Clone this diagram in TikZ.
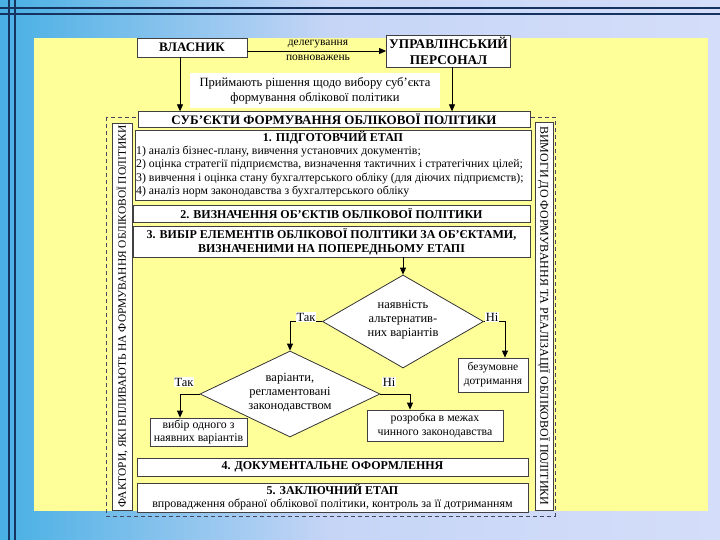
\documentclass[tikz,border=0pt]{standalone}
\usepackage{fontspec}
\setmainfont{Liberation Serif}
\usetikzlibrary{shapes.geometric,arrows.meta}
\definecolor{bgA}{RGB}{72,176,228}
\definecolor{bgB}{RGB}{198,213,246}
\definecolor{bgC}{RGB}{212,222,250}
\definecolor{yel}{RGB}{255,255,153}
\definecolor{navy}{RGB}{22,50,95}
\definecolor{dashc}{RGB}{70,72,95}
\begin{document}
\begin{tikzpicture}[x=1pt,y=-1pt,
  box/.style={draw=black!75,fill=white,line width=0.8pt,inner sep=0pt,align=center},
  ttl/.style={font=\bfseries\fontsize{12}{14}\selectfont},
  txt/.style={font=\fontsize{11.8}{14}\selectfont},
  arr/.style={-{Triangle[length=7pt,width=6pt]},line width=0.8pt},
  lbl/.style={fill=white,inner sep=1pt,font=\fontsize{12.5}{13}\selectfont},
  dia/.style={draw=black!80,fill=white,line width=0.8pt,diamond,inner sep=0pt},
  diatxt/.style={inner sep=0pt,align=center,font=\fontsize{12.5}{14}\selectfont}
  ]
\useasboundingbox (0,0) rectangle (720,540);
% background
\shade[left color=bgA,right color=bgB] (0,0) rectangle (330,540);
\shade[left color=bgB,right color=bgC] (330,0) rectangle (720,540);
\draw[navy,line width=2pt] (0,8.5) -- (720,8.5) (0,14.5) -- (720,14.5)
  (8.5,0) -- (8.5,540) (14.5,0) -- (14.5,540);
\fill[yel] (34,38) rectangle (708,511);
\draw[dashc,line width=0.8pt,dash pattern=on 4pt off 3pt] (106,117) rectangle (555,516);

% top part
\node[box,minimum width=110,minimum height=19,font=\bfseries\fontsize{13}{15}\selectfont] (vl) at (192,47.5) {ВЛАСНИК};
\node[box,minimum width=124,minimum height=32,font=\bfseries\fontsize{13.3}{16}\selectfont] (up) at (448.5,51) {УПРАВЛІНСЬКИЙ\\ПЕРСОНАЛ};
\node[inner sep=0pt,font=\fontsize{11.5}{14}\selectfont] (del) at (318,44) {делегування};
\node[inner sep=0pt,font=\fontsize{11.5}{14}\selectfont] (pov) at (318,58) {повноважень};
\draw[arr] (vl.east |- up.west) -- (up.west);
\node[fill=white,minimum width=250,minimum height=35,inner sep=0pt,align=center,font=\fontsize{12.6}{15}\selectfont] (pr) at (315,90.5) {Приймають рішення щодо вибору суб’єкта\\формування облікової політики};
\node[box,minimum width=392,minimum height=15.5,font=\bfseries\fontsize{13}{14}\selectfont] (sub) at (334,119.5) {СУБ’ЄКТИ ФОРМУВАННЯ ОБЛІКОВОЇ ПОЛІТИКИ};
\draw[arr] ([xshift=-12pt]vl.south) -- ([xshift=-12pt]vl.south |- sub.north);
\draw[arr] ([xshift=3.5pt]up.south) -- ([xshift=3.5pt]up.south |- sub.north);

% side boxes
\node[box,rotate=90,minimum width=387,minimum height=20,font=\fontsize{11.4}{12}\selectfont] (fak) at (122,316.5) {ФАКТОРИ, ЯКІ ВПЛИВАЮТЬ НА ФОРМУВАННЯ ОБЛІКОВОЇ ПОЛІТИКИ};
\node[box,rotate=-90,minimum width=388,minimum height=18,font=\fontsize{12}{12}\selectfont] (vym) at (544,316) {ВИМОГИ ДО ФОРМУВАННЯ ТА РЕАЛІЗАЦІЇ ОБЛІКОВОЇ ПОЛІТИКИ};

% stage 1
\node[box,minimum width=396,minimum height=70] (s1) at (333,165) {};
\node[ttl,inner sep=0pt] (s1t) at (333,137.5) {1. ПІДГОТОВЧИЙ ЕТАП};
\node[txt,anchor=west,inner sep=0pt] (s1a) at (136,151.5) {1) аналіз бізнес-плану, вивчення установчих документів;};
\node[txt,anchor=west,inner sep=0pt] (s1b) at (136,165) {2) оцінка стратегії підприємства, визначення тактичних і стратегічних цілей;};
\node[txt,anchor=west,inner sep=0pt] (s1c) at (136,178.5) {3) вивчення і оцінка стану бухгалтерського обліку (для діючих підприємств);};
\node[txt,anchor=west,inner sep=0pt] (s1d) at (136,192) {4) аналіз норм законодавства з бухгалтерського обліку};

% stages 2,3
\node[box,ttl,minimum width=397,minimum height=17] (s2) at (331.5,213.5) {2. ВИЗНАЧЕННЯ ОБ’ЄКТІВ ОБЛІКОВОЇ ПОЛІТИКИ};
\node[box,ttl,minimum width=397,minimum height=31] (s3) at (331.5,241.5) {3. ВИБІР ЕЛЕМЕНТІВ ОБЛІКОВОЇ ПОЛІТИКИ ЗА ОБ’ЄКТАМИ,\\ВИЗНАЧЕНИМИ НА ПОПЕРЕДНЬОМУ ЕТАПІ};

% decisions
\node[dia,minimum width=161,minimum height=93] (d1) at (403,321.5) {};
\node[diatxt] (d1t) at (403,319.5) {наявність\\альтернатив-\\них варіантів};
\node[box,font=\fontsize{11.5}{14}\selectfont,minimum width=70,minimum height=34] (bez) at (493,375) {безумовне\\дотримання};
\node[dia,minimum width=180,minimum height=86] (d2) at (290,394) {};
\node[diatxt] (d2t) at (290,392.5) {варіанти,\\регламентовані\\законодавством};
\node[box,minimum width=97,minimum height=28,font=\fontsize{11.8}{13.5}\selectfont] (vyb) at (198.5,432) {вибір одного з\\наявних варіантів};
\node[box,txt,minimum width=136,minimum height=31] (roz) at (435,425.5) {розробка в межах\\чинного законодавства};

\draw[arr] (s3.south -| d1.north) -- (d1.north);
\draw[arr] (d1.west) -| (d2.north);
\draw[arr] (d1.east) -| ([xshift=12pt]bez.north);
\draw[arr] (d2.west) -| ([xshift=-18.5pt]vyb.north);
\draw[arr] (d2.east) -| ([xshift=-25pt]roz.north);

\node[lbl] (t1) at (306,317) {Так};
\node[lbl] (n1) at (492,317) {Ні};
\node[lbl] (t2) at (184,382) {Так};
\node[lbl] (n2) at (389,382) {Ні};

% stages 4,5
\node[box,ttl,minimum width=391,minimum height=18] (s4) at (332.5,467) {4. ДОКУМЕНТАЛЬНЕ ОФОРМЛЕННЯ};
\node[box,minimum width=391,minimum height=29,font=\fontsize{12}{13}\selectfont] (s5) at (332.5,497.5) {\textbf{5. ЗАКЛЮЧНИЙ ЕТАП}\\впровадження обраної облікової політики, контроль за її дотриманням};
\end{tikzpicture}
\end{document}
